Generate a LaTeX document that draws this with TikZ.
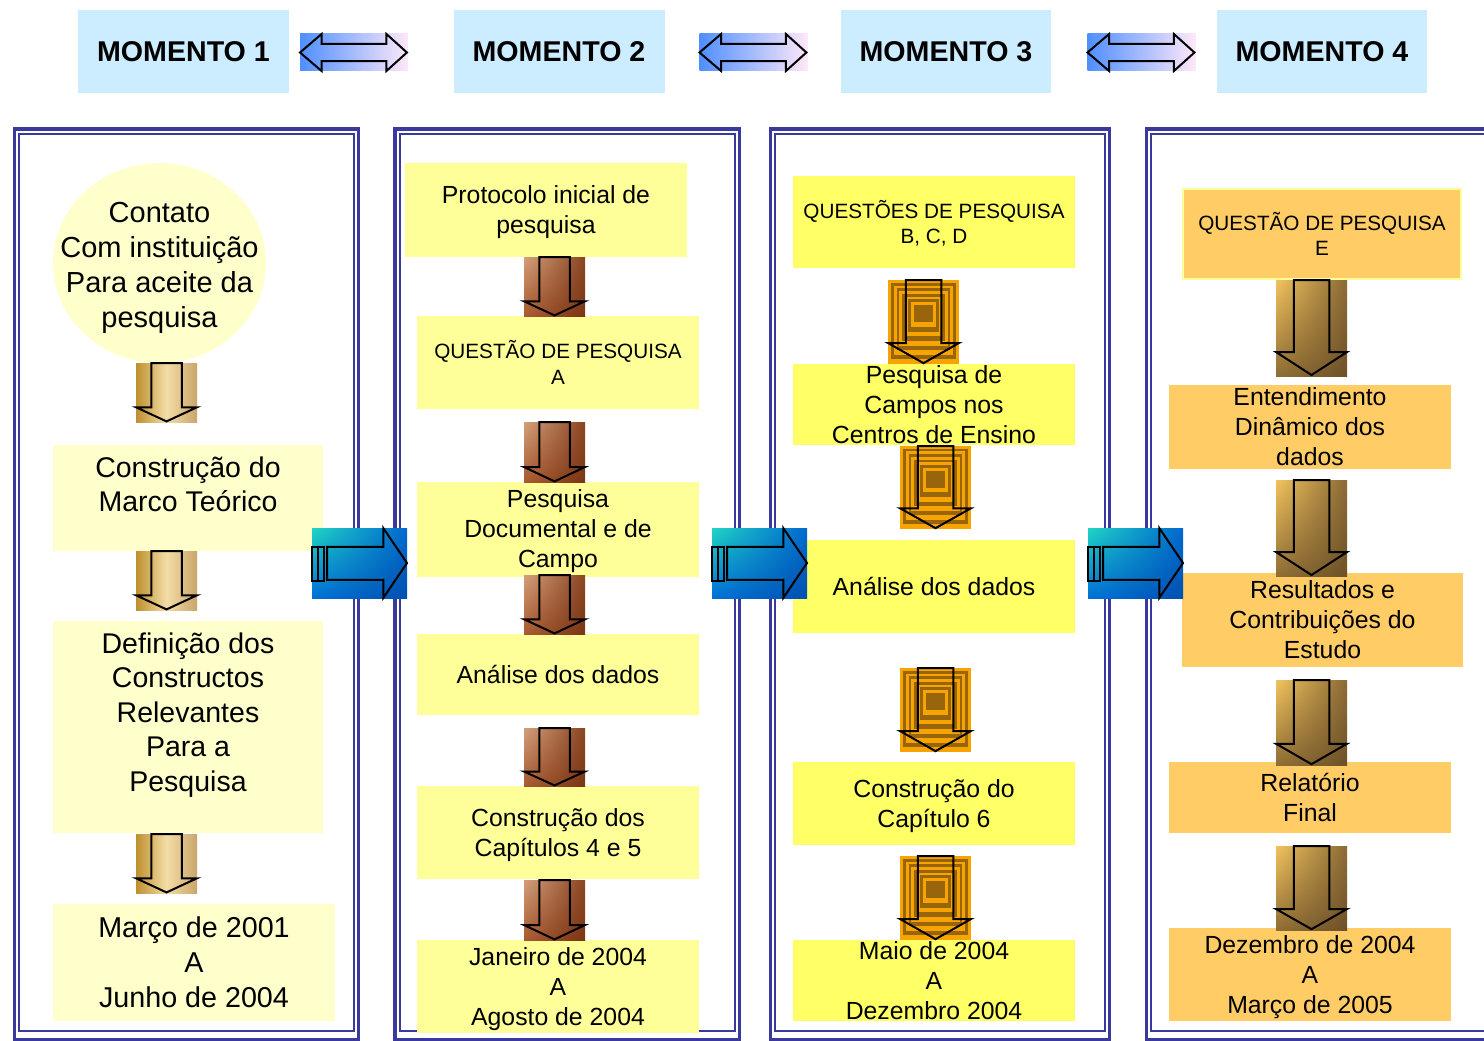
\documentclass[tikz,border=0pt]{standalone}
\usepackage{fontspec}
\setmainfont{Liberation Sans}
\usetikzlibrary{shapes.geometric,calc,shadings}
\definecolor{hdr}{HTML}{CCECFF}
\definecolor{frm}{HTML}{3A3A9E}
\definecolor{cA}{HTML}{FFFFCC}
\definecolor{cB}{HTML}{FFFF99}
\definecolor{cC}{HTML}{FFFF66}
\definecolor{cD}{HTML}{FFCC66}
\definecolor{oA}{HTML}{F8A400}
\definecolor{oB}{HTML}{98640C}
\definecolor{gL}{HTML}{BF8F2E}
\definecolor{gM}{HTML}{F3DDA6}
\definecolor{gR}{HTML}{C9A66A}
\definecolor{brUL}{HTML}{D4A07C}
\definecolor{brUR}{HTML}{8A4522}
\definecolor{brLL}{HTML}{A85A30}
\definecolor{brLR}{HTML}{7A3515}
\definecolor{tnUL}{HTML}{F2C35E}
\definecolor{tnUR}{HTML}{8A6A35}
\definecolor{tnLL}{HTML}{8F6E35}
\definecolor{tnLR}{HTML}{6E5128}
\definecolor{blUL}{HTML}{20D4C4}
\definecolor{blUR}{HTML}{0068D0}
\definecolor{blLL}{HTML}{0070D8}
\definecolor{blLR}{HTML}{0050B0}
\definecolor{hL}{HTML}{4F8FFF}
\definecolor{hR}{HTML}{FFE8FA}
\newcommand\OrStripes{%
  \foreach \k/\c in {0/oA,1/oB,2/oA,3/oB,4/oA,5/oB,6/oA,7/oB,8/oA,9/oB}{%
    \fill[\c] (\k*0.04,\k*0.033) rectangle (1-\k*0.04,1-\k*0.055);}}
\newcommand\DownArr[7][]{%
  \node[arrbg,#7,minimum width=#5pt,minimum height=#6pt] (#2) at (#3,#4) {};
  \begin{scope}[shift={(#2.north west)},x=#5pt,y=-#6pt]
    #1
    \draw[arrline] (0.25,0) -- (0.75,0) -- (0.75,0.75) -- (1,0.75) -- (0.5,0.99) -- (0,0.75) -- (0.25,0.75) -- cycle;
  \end{scope}}
\newcommand\BlueArr[3]{%
  \node[arrbg,bluebg,minimum width=95pt,minimum height=70pt] (#1) at (#2,#3) {};
  \begin{scope}[shift={(#1.north west)},x=95pt,y=-70pt]
    \draw[arrline] (0.16,0.27) -- (0.75,0.27) -- (0.75,0) -- (1,0.5) -- (0.75,1) -- (0.75,0.74) -- (0.16,0.74) -- cycle;
    \draw[arrline] (0,0.27) rectangle (0.06,0.76);
    \draw[arrline] (0.068,0.27) rectangle (0.125,0.76);
  \end{scope}}
\newcommand\DblArr[3]{%
  \node[arrbg,hdrarr,minimum width=108pt,minimum height=37pt] (#1) at (#2,#3) {};
  \begin{scope}[shift={(#1.north west)},x=108pt,y=-37pt]
    \draw[arrline] (0,0.5) -- (0.2,0) -- (0.2,0.27) -- (0.8,0.27) -- (0.8,0) -- (0.99,0.5) -- (0.8,1) -- (0.8,0.73) -- (0.2,0.73) -- (0.2,1) -- cycle;
  \end{scope}}
\begin{document}
\begin{tikzpicture}[x=1pt,y=-1pt,
  every node/.append style={text depth=0pt},
  arrbg/.style={draw=none,inner sep=0,outer sep=0},
  arrline/.style={draw=black,line width=2pt,line join=miter},
  goldbg/.style={left color=gL,right color=gR,middle color=gM},
  brownbg/.style={upper left=brUL,upper right=brUR,lower left=brLL,lower right=brLR},
  orangebg/.style={fill=oA},
  tanbg/.style={upper left=tnUL,upper right=tnUR,lower left=tnLL,lower right=tnLR},
  bluebg/.style={upper left=blUL,upper right=blUR,lower left=blLL,lower right=blLR},
  hdrarr/.style={left color=hL,right color=hR},
  hdrbox/.style={fill=hdr,draw=none,inner sep=0,minimum width=211pt,minimum height=83pt,font=\fontsize{28.6}{34}\selectfont\bfseries},
  frameout/.style={draw=frm,line width=3.5pt},
  framein/.style={draw=frm,line width=2pt},
  box/.style={draw=none,inner sep=0,align=center,minimum width=282pt},
  boxA/.style={box,fill=cA,font=\fontsize{28.5}{34.5}\selectfont},
  txtA/.style={align=center,font=\fontsize{28.5}{34.5}\selectfont},
  boxB/.style={box,fill=cB,font=\fontsize{24.8}{30}\selectfont},
  boxC/.style={box,fill=cC,font=\fontsize{24.8}{30}\selectfont},
  boxD/.style={box,fill=cD,font=\fontsize{24.8}{30}\selectfont},
  qfont/.style={font=\fontsize{20.7}{25.5}\selectfont}
]
\useasboundingbox (0,0) rectangle (1484,1041);
% header
\node[hdrbox] (m1) at (183.5,51.5) {MOMENTO 1};
\node[hdrbox] (m2) at (559,51.5) {MOMENTO 2};
\node[hdrbox,minimum width=210pt] (m3) at (946,51.5) {MOMENTO 3};
\node[hdrbox,minimum width=210pt] (m4) at (1322,51.5) {MOMENTO 4};
\DblArr{d12}{354}{52.5}
\DblArr{d23}{753.5}{52.5}
\DblArr{d34}{1141.5}{52.5}
% frames
\draw[frameout] (14.7,129) rectangle (358.3,1039.5);
\draw[framein] (19,133.5) rectangle (354,1031);
\draw[frameout] (395,129) rectangle (739.5,1039.5);
\draw[framein] (399.5,133.5) rectangle (735,1031);
\draw[frameout] (770.5,129) rectangle (1109.5,1039.5);
\draw[framein] (775,133.5) rectangle (1104.5,1031);
\draw[frameout] (1146.5,129) rectangle (1520,1039.5);
\draw[framein] (1150.5,133.5) rectangle (1515,1031);
% column 1
\node[ellipse,fill=cA,inner sep=0,minimum width=213pt,minimum height=200pt,label={[align=center,font=\fontsize{29}{35}\selectfont,yshift=-1.5pt]center:{Contato\\Com instituição\\Para aceite da\\pesquisa}}] (a1) at (159.5,263) {};
\node[boxA,minimum width=270pt,minimum height=106pt,label={[txtA,yshift=14pt]center:{Construção do\\Marco Teórico}}] (a2) at (188,498) {};
\node[boxA,minimum width=270pt,minimum height=212pt,label={[txtA,yshift=15pt]center:{Definição dos\\Constructos\\Relevantes\\Para a\\Pesquisa}}] (a3) at (188,727) {};
\node[boxA,minimum height=117pt,font=\fontsize{28.7}{35}\selectfont] (a4) at (194,962.5) {Março de 2001\\A\\Junho de 2004};
\DownArr{aa1}{166.5}{392.5}{61}{59}{goldbg}
\DownArr{aa2}{166.5}{580.5}{61}{59}{goldbg}
\DownArr{aa3}{166.5}{863.5}{61}{59}{goldbg}
% column 2
\node[boxB,minimum height=94pt] (b1) at (546,210) {Protocolo inicial de\\pesquisa};
\node[boxB,qfont,minimum height=93pt] (b2) at (558,362.5) {QUESTÃO DE PESQUISA\\A};
\node[boxB,minimum height=95pt] (b3) at (558,529) {Pesquisa\\Documental e de\\Campo};
\node[boxB,minimum height=81pt] (b4) at (558,674.5) {Análise dos dados};
\node[boxB,minimum height=93pt] (b5) at (558,832.5) {Construção dos\\Capítulos 4 e 5};
\node[boxB,minimum height=93pt] (b6) at (558,986.5) {Janeiro de 2004\\A\\Agosto de 2004};
\DownArr{ba1}{554.5}{286.5}{61}{59}{brownbg}
\DownArr{ba2}{554.5}{452}{61}{60}{brownbg}
\DownArr{ba3}{554.5}{604.5}{61}{59}{brownbg}
\DownArr{ba4}{554.5}{757}{61}{58}{brownbg}
\DownArr{ba5}{554.5}{910}{61}{60}{brownbg}
% column 3
\node[boxC,qfont,minimum height=92pt] (c1) at (934,222) {QUESTÕES DE PESQUISA\\B, C, D};
\node[boxC,minimum height=81pt] (c2) at (934,404.5) {Pesquisa de\\Campos nos\\Centros de Ensino};
\node[boxC,minimum height=93pt] (c3) at (934,586.5) {Análise dos dados};
\node[boxC,minimum height=83pt] (c4) at (934,803.5) {Construção do\\Capítulo 6};
\node[boxC,minimum height=81pt] (c5) at (934,980.5) {Maio de 2004\\A\\Dezembro 2004};
\DownArr[\OrStripes]{ca1}{923.5}{322}{71}{84}{orangebg}
\DownArr[\OrStripes]{ca2}{935.5}{487.5}{71}{83}{orangebg}
\DownArr[\OrStripes]{ca3}{935.5}{710}{71}{84}{orangebg}
\DownArr[\OrStripes]{ca4}{935.5}{898}{71}{84}{orangebg}
% column 4
\node[boxD,qfont,minimum width=278pt,minimum height=90pt,draw=cB,line width=2.5pt] (d1) at (1322,234) {QUESTÃO DE PESQUISA\\E};
\node[boxD,minimum height=84pt] (d2) at (1310,427) {Entendimento\\Dinâmico dos\\dados};
\node[boxD,minimum width=281pt,minimum height=94pt] (d3) at (1322.5,620) {Resultados e\\Contribuições do\\Estudo};
\node[boxD,minimum height=71pt] (d4) at (1310,797.5) {Relatório\\Final};
\node[boxD,minimum height=93pt] (d5) at (1310,974.5) {Dezembro de 2004\\A\\Março de 2005};
\DownArr{da1}{1311.5}{328}{71}{96}{tanbg}
\DownArr{da2}{1311.5}{528}{71}{96}{tanbg}
\DownArr{da3}{1311.5}{722.5}{71}{85}{tanbg}
\DownArr{da4}{1311.5}{888}{71}{84}{tanbg}
% big blue arrows
\BlueArr{ab}{359.5}{563}
\BlueArr{bc}{759.5}{563}
\BlueArr{cd}{1135.5}{563}
\end{tikzpicture}
\end{document}
